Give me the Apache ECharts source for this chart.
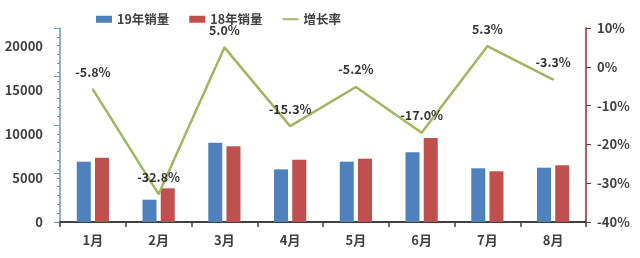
<!DOCTYPE html>
<html><head><meta charset="utf-8">
<script src="https://cdn.jsdelivr.net/npm/echarts@6/dist/echarts.min.js"></script>
<style>html,body{margin:0;padding:0;background:#fff}#c{width:640px;height:258px}</style>
</head><body><div id="c"></div>
<script>
const categories = ['1月','2月','3月','4月','5月','6月','7月','8月'];
const sales19 = [6840, 2530, 8990, 5970, 6840, 7900, 6090, 6160];
const sales18 = [7280, 3820, 8580, 7060, 7180, 9520, 5750, 6430];
const growth = [-5.8, -32.8, 5.0, -15.3, -5.2, -17.0, 5.3, -3.3];
const seriesNames = ['19年销量','18年销量','增长率'];

const font = 'Noto Sans CJK SC';
const txt = '#404040';
const lineColor = '#A0B762';
const chart = echarts.init(document.getElementById('c'));
chart.setOption({
  animation: false,
  textStyle: {fontFamily: font},
  legend: {
    top: 8, left: 91, itemWidth: 16, itemHeight: 7, itemGap: 20,
    textStyle: {fontSize: 12.5, fontWeight: 'bold', color: txt, fontFamily: font},
    data: [{name: seriesNames[0], icon: 'rect'}, {name: seriesNames[1], icon: 'rect'},
           {name: seriesNames[2], icon: 'path://M0,0 L16,0 L16,2 L0,2 Z', itemStyle: {color: lineColor, opacity: 1}}]
  },
  grid: {left: 60, right: 54, top: 28, bottom: 36},
  xAxis: {
    type: 'category', data: categories, boundaryGap: true,
    axisLine: {lineStyle: {color: '#404040', width: 2}},
    axisTick: {show: true, alignWithLabel: false, length: 5, lineStyle: {color: '#404040', width: 1.5}},
    axisLabel: {fontSize: 13, fontWeight: 'bold', color: txt, margin: 12, fontFamily: font}
  },
  yAxis: [
    {
      type: 'value', min: 0, max: 22000, interval: 1000, position: 'left',
      splitLine: {show: false},
      axisLine: {show: true, lineStyle: {color: '#6F95C5', width: 1.5}},
      axisTick: {show: true, inside: false, length: 3, lineStyle: {color: '#6F95C5'}},
      axisLabel: {fontSize: 13, fontWeight: 'bold', color: txt, margin: 17, fontFamily: font,
        formatter: v => (v % 5000 === 0 ? String(v) : '')}
    },
    {
      type: 'value', min: -40, max: 10, interval: 10, position: 'right',
      splitLine: {show: false},
      axisLine: {show: true, lineStyle: {color: '#8E2A35', width: 1.5}},
      axisTick: {show: true, length: 5, lineStyle: {color: '#8E2A35'}},
      axisLabel: {fontSize: 13, fontWeight: 'bold', color: txt, margin: 11, fontFamily: font,
        formatter: v => v + '%'}
    },
    {
      type: 'value', min: 0, max: 20000, interval: 5000, position: 'left',
      splitLine: {show: false},
      axisLine: {show: false},
      axisTick: {show: true, length: 6, lineStyle: {color: '#6F95C5'}},
      axisLabel: {show: false}
    }
  ],
  series: [
    {name: seriesNames[0], type: 'bar', yAxisIndex: 0, data: sales19, barWidth: 14, barGap: '30%',
      itemStyle: {color: '#4F81BD'}},
    {name: seriesNames[1], type: 'bar', yAxisIndex: 0, data: sales18, barWidth: 14, barGap: '30%',
      itemStyle: {color: '#C0504D'}},
    {name: seriesNames[2], type: 'line', yAxisIndex: 1, data: growth, symbol: 'circle', symbolSize: 2,
      showSymbol: true, showAllSymbol: true,
      lineStyle: {color: lineColor, width: 2.5}, itemStyle: {color: lineColor},
      label: {show: true, position: 'top', distance: 10, fontSize: 12.5, fontWeight: 'bold', color: '#333',
        fontFamily: font, formatter: p => p.value.toFixed(1) + '%'}}
  ]
});
</script></body></html>
